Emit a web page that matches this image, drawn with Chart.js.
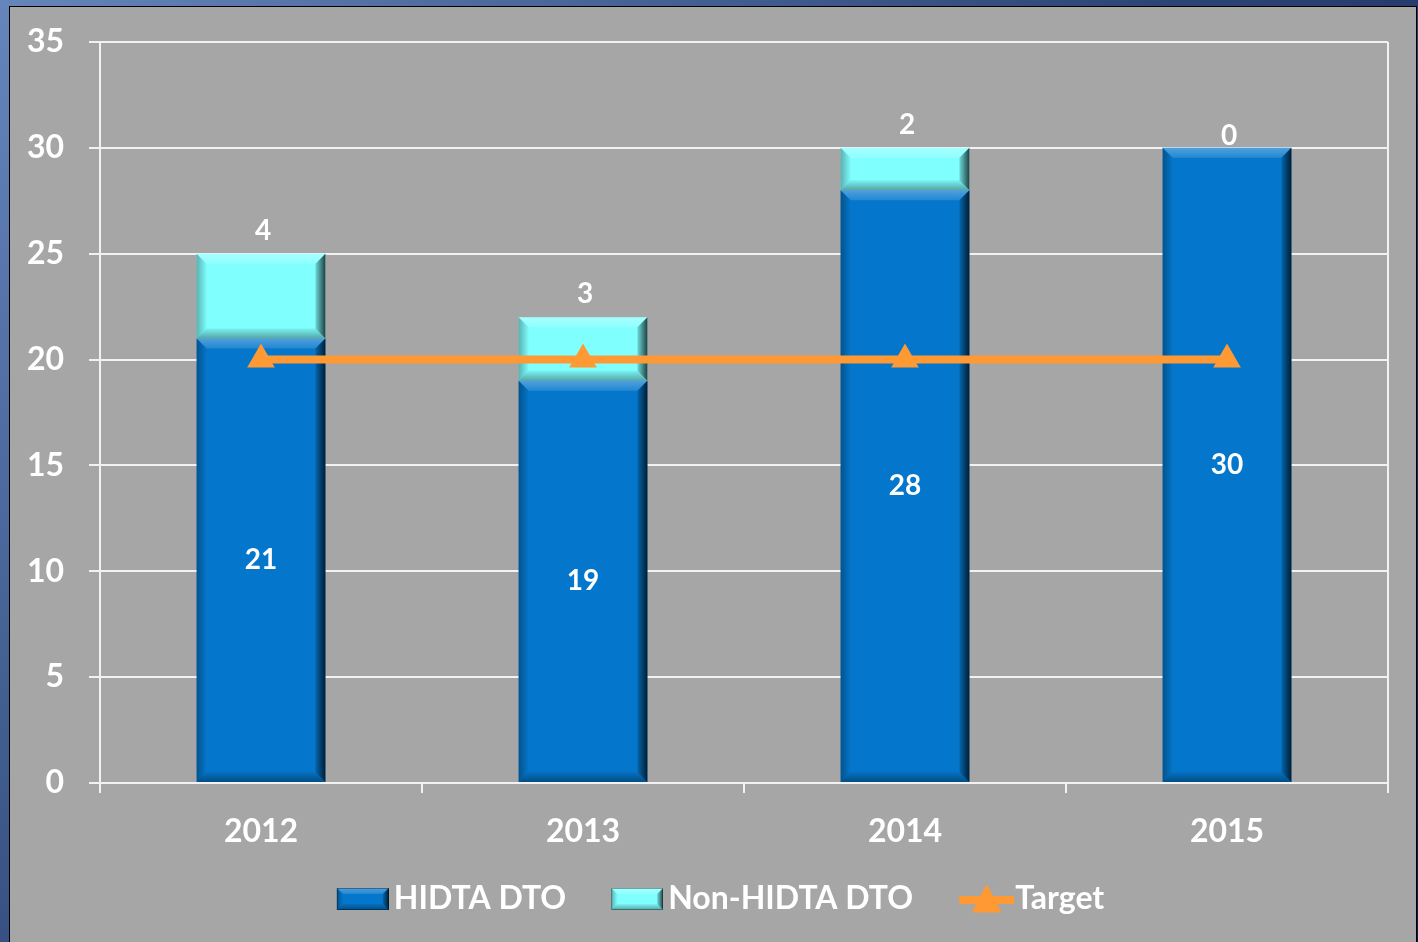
<!DOCTYPE html>
<html>
<head>
<meta charset="utf-8">
<script src="https://cdn.jsdelivr.net/npm/chart.js@4"></script>
<style>
html, body { margin: 0; padding: 0; }
body {
	width: 1418px; height: 942px; overflow: hidden; position: relative;
	background: linear-gradient(135deg, #6585bb 0%, #2c4475 50%, #0b1a48 100%);
}
#panel {
	position: absolute; left: 9px; top: 6px; width: 1406px; height: 936px;
	background: #a6a6a6;
	border-left: 1px solid #000; border-top: 1px solid #000; border-right: 1px solid #000;
}
canvas { display: block; }
</style>
</head>
<body>
<div id="panel"><canvas id="chart" width="1406" height="936"></canvas></div>
<script>
// values
var years    = ['2012', '2013', '2014', '2015'];
var hidta    = [21, 19, 28, 30];
var nonHidta = [4, 3, 2, 0];
var target   = [20, 20, 20, 20];
var yTicks   = [0, 5, 10, 15, 20, 25, 30, 35];

var BLUE = '#0477cc', CYAN = '#80ffff', ORANGE = '#ff9933', GRID = '#f2f2f2';
var FONT = 'Lato';

function poly(ctx, pts, fill) {
	ctx.beginPath();
	ctx.moveTo(pts[0][0], pts[0][1]);
	for (var i = 1; i < pts.length; i++) ctx.lineTo(pts[i][0], pts[i][1]);
	ctx.closePath();
	ctx.fillStyle = fill;
	ctx.fill();
}

function grad(ctx, ax, ay, bx, by, c0, c1) {
	var g = ctx.createLinearGradient(ax, ay, bx, by);
	g.addColorStop(0, c0);
	g.addColorStop(1, c1);
	return g;
}

// excel-like bevel on top of a flat bar
function bevel(ctx, x0, y0, x1, y1, b) {
	var h = y1 - y0;
	if (h < 1) return;
	b = Math.min(b, h / 2, (x1 - x0) / 2);
	ctx.save();
	poly(ctx, [[x0, y0], [x1, y0], [x1 - b, y0 + b], [x0 + b, y0 + b]],
		grad(ctx, 0, y0, 0, y0 + b, 'rgba(255,255,255,0.30)', 'rgba(255,255,255,0.12)'));
	poly(ctx, [[x0, y0], [x0 + b, y0 + b], [x0 + b, y1 - b], [x0, y1]],
		grad(ctx, x0, 0, x0 + b, 0, 'rgba(0,0,0,0.30)', 'rgba(0,0,0,0.02)'));
	poly(ctx, [[x0, y1], [x1, y1], [x1 - b, y1 - b], [x0 + b, y1 - b]],
		grad(ctx, 0, y1 - b, 0, y1, 'rgba(0,0,0,0.05)', 'rgba(0,0,0,0.35)'));
	poly(ctx, [[x1, y0], [x1 - b, y0 + b], [x1 - b, y1 - b], [x1, y1]],
		grad(ctx, x1 - b, 0, x1, 0, 'rgba(0,0,0,0.15)', 'rgba(0,0,0,0.75)'));
	ctx.restore();
}

// legend icons: canvas wider than the symbol so the symbol sits right next to its text
function barIcon(color) {
	var c = document.createElement('canvas');
	c.width = 78; c.height = 22;
	var ctx = c.getContext('2d');
	ctx.translate(26, 0);
	ctx.fillStyle = color;
	ctx.fillRect(0, 0, 52, 22);
	bevel(ctx, 0, 0, 52, 22, 6);
	ctx.strokeStyle = 'rgba(0,0,0,0.35)';
	ctx.strokeRect(0.5, 0.5, 51, 21);
	return c;
}

function lineIcon() {
	var c = document.createElement('canvas');
	c.width = 86; c.height = 30;
	var ctx = c.getContext('2d');
	ctx.translate(31, 0);
	ctx.strokeStyle = ORANGE; ctx.fillStyle = ORANGE;
	ctx.lineWidth = 8;
	ctx.beginPath(); ctx.moveTo(0, 16); ctx.lineTo(55, 16); ctx.stroke();
	ctx.lineWidth = 3; ctx.lineJoin = 'round';
	ctx.beginPath(); ctx.moveTo(27.5, 3); ctx.lineTo(40, 27); ctx.lineTo(15, 27); ctx.closePath();
	ctx.fill(); ctx.stroke();
	return c;
}

var legendIcons = [barIcon(BLUE), barIcon(CYAN), lineIcon()];

var barBevel = {
	id: 'barBevel',
	afterDatasetDraw: function(chart, args) {
		if (args.meta.type !== 'bar') return;
		var ctx = chart.ctx;
		args.meta.data.forEach(function(bar) {
			var half = bar.width / 2;
			bevel(ctx, bar.x - half, Math.min(bar.y, bar.base), bar.x + half, Math.max(bar.y, bar.base), 10);
		});
	}
};

var valueLabels = {
	id: 'valueLabels',
	afterDatasetsDraw: function(chart) {
		var ctx = chart.ctx;
		ctx.save();
		ctx.font = 'bold 28px ' + FONT;
		ctx.fillStyle = '#fff';
		ctx.textAlign = 'center';
		ctx.textBaseline = 'middle';
		chart.getDatasetMeta(0).data.forEach(function(bar, i) {
			ctx.fillText(hidta[i], bar.x, (bar.y + bar.base) / 2);
		});
		chart.getDatasetMeta(1).data.forEach(function(bar, i) {
			var lift = nonHidta[i] > 0 ? 23 : 12;
			ctx.fillText(nonHidta[i], bar.x + 2, bar.y - lift);
		});
		ctx.restore();
	}
};

var ctx = document.getElementById('chart').getContext('2d');
var chart = new Chart(ctx, {
	type: 'bar',
	data: {
		labels: years,
		datasets: [
			{
				label: 'HIDTA DTO',
				data: hidta,
				backgroundColor: BLUE,
				stack: 'dto',
				order: 1
			},
			{
				label: 'Non-HIDTA DTO',
				data: nonHidta,
				backgroundColor: CYAN,
				stack: 'dto',
				order: 1
			},
			{
				type: 'line',
				label: 'Target',
				data: target,
				borderColor: ORANGE,
				backgroundColor: ORANGE,
				borderWidth: 8,
				pointStyle: 'triangle',
				pointRadius: 14,
				pointBorderWidth: 2,
				pointBackgroundColor: ORANGE,
				pointBorderColor: ORANGE,
				tension: 0,
				fill: false,
				stack: 'target',
				order: 0
			}
		]
	},
	options: {
		responsive: false,
		animation: false,
		devicePixelRatio: 1,
		layout: { padding: { top: 35, right: 0, bottom: 18, left: 0 } },
		datasets: { bar: { categoryPercentage: 1, barPercentage: 0.4 } },
		scales: {
			x: {
				stacked: true,
				ticks: { color: '#fff', font: { family: FONT, weight: 'bold', size: 32 }, padding: 19 },
				grid: {
					offset: true,
					color: function(c) { return (c.index === 0 || c.index === undefined) ? GRID : 'rgba(0,0,0,0)'; },
					tickColor: GRID,
					lineWidth: 2,
					tickLength: 10
				},
				border: { color: GRID, width: 2 },
				afterFit: function(s) { s.height = 70; }
			},
			y: {
				stacked: true,
				min: yTicks[0],
				max: yTicks[yTicks.length - 1],
				ticks: { stepSize: yTicks[1] - yTicks[0], color: '#fff', font: { family: FONT, weight: 'bold', size: 32 }, padding: 25 },
				grid: { color: GRID, lineWidth: 2, tickLength: 11 },
				border: { color: GRID, width: 2 },
				afterFit: function(s) { s.width = 90; s.paddingTop = 0; s.paddingBottom = 0; }
			},
			// empty right margin, keeps the legend centred on the whole panel
			margin: {
				position: 'right',
				ticks: { display: false },
				grid: { display: false },
				border: { display: false },
				afterFit: function(s) { s.width = 28; s.paddingTop = 0; s.paddingBottom = 0; }
			}
		},
		plugins: {
			tooltip: { enabled: false },
			legend: {
				position: 'bottom',
				labels: {
					usePointStyle: true,
					pointStyleWidth: 56,
					boxHeight: 22,
					color: '#fff',
					font: { family: FONT, weight: 'bold', size: 32 },
					padding: 30,
					sort: function(a, b) { return a.datasetIndex - b.datasetIndex; },
					generateLabels: function(chart) {
						var items = Chart.defaults.plugins.legend.labels.generateLabels(chart);
						items.forEach(function(it) { it.pointStyle = legendIcons[it.datasetIndex]; });
						return items;
					}
				}
			}
		}
	},
	plugins: [barBevel, valueLabels]
});
</script>
</body>
</html>
